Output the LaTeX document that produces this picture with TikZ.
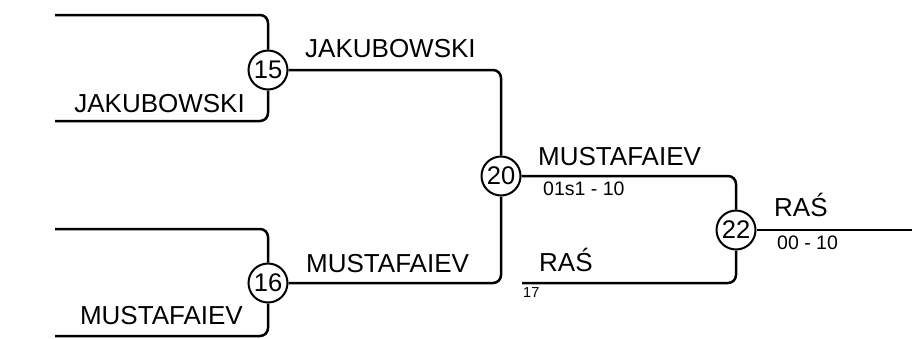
\documentclass[tikz,border=0pt]{standalone}
\usepackage{fontspec}
\setmainfont{Liberation Sans}
\begin{document}
\begin{tikzpicture}[x=1pt,y=-1pt,
  conn/.style={line width=2.5pt, rounded corners=8pt},
  seedcirc/.style={circle, draw, line width=2pt, minimum size=39pt, inner sep=0pt, font=\fontsize{25.5}{28}\selectfont},
  pname/.style={inner sep=0pt, font=\fontsize{26}{30}\selectfont},
  pscore/.style={inner sep=0pt, font=\fontsize{19.5}{22}\selectfont},
  ptiny/.style={inner sep=0pt, font=\fontsize{14.5}{16}\selectfont}]
\useasboundingbox (0,0) rectangle (912,338);
\node[seedcirc] (c15) at (268,70) {15};
\node[seedcirc] (c16) at (268,283) {16};
\node[seedcirc] (c20) at (501,176) {20};
\node[seedcirc] (c22) at (736,230) {22};
\coordinate (a15) at (55,15);
\coordinate (b15) at (55,121);
\coordinate (a16) at (55,229);
\coordinate (b16) at (55,336);
\coordinate (r17) at (522,283);
\coordinate (fin) at (912,230);
\draw[conn] (a15) -| (c15);
\draw[conn] (b15) -| (c15);
\draw[conn] (a16) -| (c16);
\draw[conn] (b16) -| (c16);
\draw[conn] (c15) -| (c20);
\draw[conn] (c16) -| (c20);
\draw[conn] (c20) -| (c22);
\draw[conn] (r17) -| (c22);
\draw[conn] (c22) -- (fin);
\node[pname, anchor=base west] (n1) at (305,57) {JAKUBOWSKI};
\node[pname, anchor=base east] (n2) at (245,112) {JAKUBOWSKI};
\node[pname, anchor=base west] (n3) at (306,272) {MUSTAFAIEV};
\node[pname, anchor=base east] (n4) at (243,324) {MUSTAFAIEV};
\node[pname, anchor=base west] (n5) at (538,165) {MUSTAFAIEV};
\node[pscore, anchor=base west] (n6) at (543,195) {01s1 - 10};
\node[pname, anchor=base west] (n7) at (539,271) {RAŚ};
\node[ptiny, anchor=base west] (n8) at (523,297) {17};
\node[pname, anchor=base west] (n9) at (774,216) {RAŚ};
\node[pscore, anchor=base west] (n10) at (777,249) {00 - 10};
\end{tikzpicture}
\end{document}
